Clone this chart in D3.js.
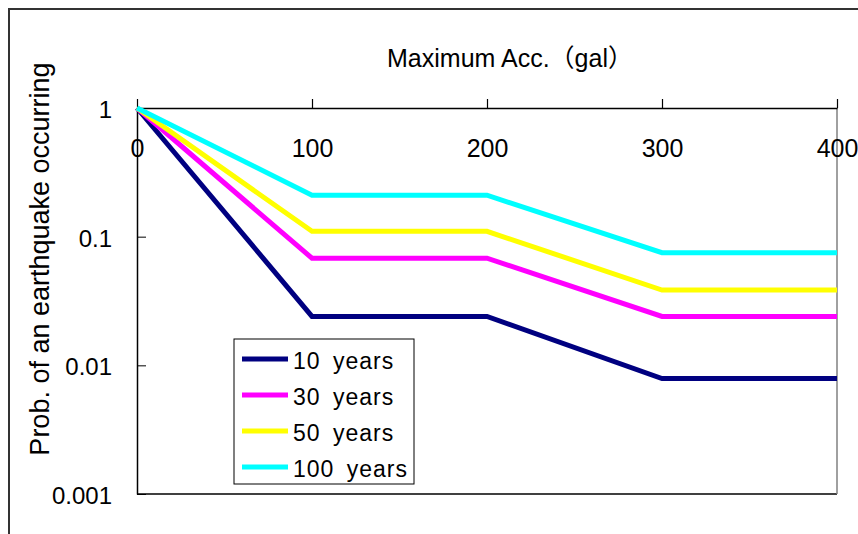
<!DOCTYPE html>
<html>
<head>
<meta charset="utf-8">
<script src="https://cdn.jsdelivr.net/npm/d3@7"></script>
<style>
  body { margin: 0; background: #fff; }
  svg { display: block; font-family: "Liberation Sans", Arial, "Noto Sans CJK JP", sans-serif; }
</style>
</head>
<body>
<svg id="chart" width="858" height="534"></svg>
<script>
// values
var accel = [0, 100, 200, 300, 400];
var yr10  = [1, 0.024, 0.024, 0.0079, 0.0079];
var yr30  = [1, 0.068, 0.068, 0.024, 0.024];
var yr50  = [1, 0.11, 0.11, 0.0385, 0.0385];
var yr100 = [1, 0.21, 0.21, 0.075, 0.075];
var seriesNames = ["10 years", "30 years", "50 years", "100 years"];
var seriesColors = ["#000080", "#ff00ff", "#ffff00", "#00ffff"];
var yTicks = [1, 0.1, 0.01, 0.001];

var allSeries = [yr10, yr30, yr50, yr100];

var svg = d3.select("#chart");

// outer chart frame (runs off the right / bottom)
svg.append("rect")
  .attr("x", 9).attr("y", 9)
  .attr("width", 900).attr("height", 600)
  .attr("fill", "#fff")
  .attr("stroke", "#333")
  .attr("stroke-width", 2);

var x = d3.scaleLinear().domain([0, 400]).range([137, 837]);
var y = d3.scaleLog().domain([0.001, 1]).range([494, 108]);

// plot border: bottom black, right gray
svg.append("line")
  .attr("x1", x(0)).attr("x2", x(400))
  .attr("y1", y(0.001)).attr("y2", y(0.001))
  .attr("stroke", "#000").attr("stroke-width", 1.5);
svg.append("line")
  .attr("x1", x(400)).attr("x2", x(400))
  .attr("y1", y(1)).attr("y2", y(0.001))
  .attr("stroke", "#808080").attr("stroke-width", 1.5);

// top x axis, labels under the line
var xAxis = svg.append("g")
  .attr("transform", "translate(0," + y(1) + ")")
  .call(d3.axisTop(x).tickValues(accel).tickSize(9).tickSizeOuter(0));
xAxis.select(".domain").attr("stroke-width", 1.5);
xAxis.selectAll("line").attr("stroke-width", 1.2);
xAxis.selectAll("text")
  .attr("y", 49).attr("dy", 0)
  .attr("font-size", 25)
  .attr("fill", "#000");

// left y axis, ticks inside
var yAxis = svg.append("g")
  .attr("transform", "translate(" + x(0) + ",0)")
  .call(d3.axisLeft(y).tickValues(yTicks).tickFormat(d3.format("~g"))
    .tickSizeInner(-9).tickSizeOuter(0).tickPadding(25));
yAxis.select(".domain").attr("stroke-width", 1.5);
yAxis.selectAll("text")
  .attr("dy", "0.4em")
  .attr("font-size", 24)
  .attr("fill", "#000");

// series lines
var line = d3.line()
  .x(function(d, i) { return x(accel[i]); })
  .y(function(d) { return y(d); });

svg.append("g").selectAll("path")
  .data(allSeries)
  .join("path")
  .attr("d", line)
  .attr("fill", "none")
  .attr("stroke", function(d, i) { return seriesColors[i]; })
  .attr("stroke-width", 5);

// titles
svg.append("text")
  .attr("x", 510).attr("y", 67)
  .attr("text-anchor", "middle")
  .attr("font-size", 25)
  .text("Maximum Acc.（gal）");

svg.append("text")
  .attr("transform", "translate(49,259) rotate(-90)")
  .attr("text-anchor", "middle")
  .attr("font-size", 27)
  .text("Prob. of an earthquake occurring");

// legend
var legend = svg.append("g").attr("transform", "translate(234,339)");
legend.append("rect")
  .attr("width", 180).attr("height", 145)
  .attr("fill", "#fff")
  .attr("stroke", "#000").attr("stroke-width", 1);

var item = legend.selectAll("g.item")
  .data(seriesNames)
  .join("g")
  .attr("class", "item")
  .attr("transform", function(d, i) { return "translate(0," + (20 + i * 36) + ")"; });
item.append("line")
  .attr("x1", 8).attr("x2", 54)
  .attr("stroke", function(d, i) { return seriesColors[i]; })
  .attr("stroke-width", 5);
item.append("text")
  .attr("x", 59).attr("y", 10)
  .attr("font-size", 23)
  .attr("letter-spacing", 1)
  .attr("word-spacing", 5)
  .text(function(d) { return d; });
</script>
</body>
</html>
